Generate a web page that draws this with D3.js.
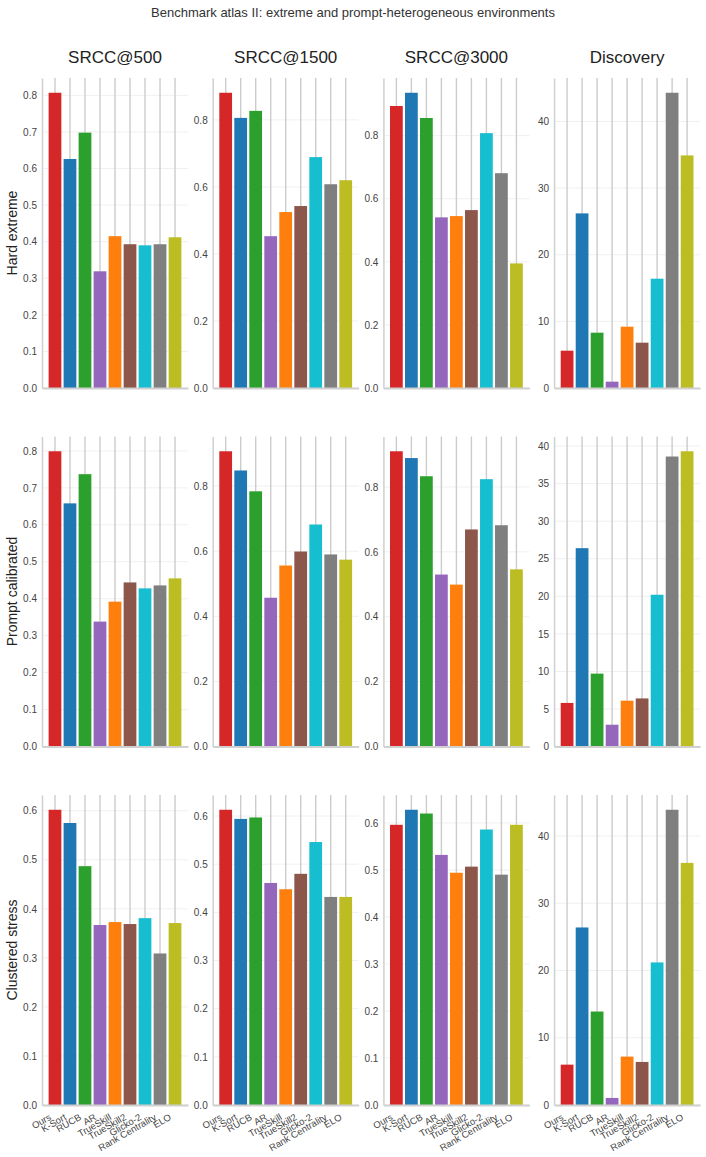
<!doctype html>
<html>
<head>
<meta charset="UTF-8">
<title>Benchmark atlas II</title>
<script src="https://d3js.org/d3.v7.min.js"></script>
<style>
    body { margin: 0; background: #fff; }
    svg text { font-family: "Liberation Sans", Arial, sans-serif; }
</style>
</head>
<body>
<svg id="chart" width="706" height="1157"></svg>
<script>
// methods and their colours
var methods = ["Ours", "K-Sort", "RUCB", "AR", "TrueSkill", "TrueSkill2", "Glicko-2", "Rank Centrality", "ELO"];
var colors = ["#d62728", "#1f77b4", "#2ca02c", "#9467bd", "#ff7f0e", "#8c564b", "#17becf", "#7f7f7f", "#bcbd22"];
var metrics = ["SRCC@500", "SRCC@1500", "SRCC@3000", "Discovery"];
var envs = ["Hard extreme", "Prompt calibrated", "Clustered stress"];

// Hard extreme
var hard500  = [0.807, 0.626, 0.698, 0.319, 0.415, 0.393, 0.390, 0.393, 0.412];
var hard1500 = [0.881, 0.806, 0.827, 0.453, 0.525, 0.543, 0.689, 0.608, 0.620];
var hard3000 = [0.894, 0.936, 0.856, 0.541, 0.545, 0.564, 0.808, 0.681, 0.395];
var hardDisc = [5.6, 26.2, 8.3, 0.95, 9.2, 6.8, 16.4, 44.3, 34.9];
// Prompt calibrated
var prompt500  = [0.799, 0.658, 0.737, 0.338, 0.392, 0.444, 0.428, 0.436, 0.455];
var prompt1500 = [0.907, 0.848, 0.784, 0.457, 0.556, 0.599, 0.682, 0.590, 0.574];
var prompt3000 = [0.910, 0.889, 0.833, 0.530, 0.499, 0.669, 0.824, 0.682, 0.546];
var promptDisc = [5.8, 26.4, 9.7, 2.9, 6.1, 6.4, 20.2, 38.6, 39.3];
// Clustered stress
var clust500  = [0.602, 0.575, 0.487, 0.367, 0.373, 0.369, 0.381, 0.309, 0.371];
var clust1500 = [0.613, 0.594, 0.597, 0.461, 0.448, 0.480, 0.546, 0.432, 0.432];
var clust3000 = [0.596, 0.628, 0.620, 0.532, 0.494, 0.507, 0.586, 0.490, 0.596];
var clustDisc = [6.0, 26.4, 13.9, 1.05, 7.2, 6.4, 21.2, 43.9, 36.0];

// tick labels
var ticksTenth8 = [0, 0.1, 0.2, 0.3, 0.4, 0.5, 0.6, 0.7, 0.8];
var ticksFifth8 = [0, 0.2, 0.4, 0.6, 0.8];
var ticksTenth6 = [0, 0.1, 0.2, 0.3, 0.4, 0.5, 0.6];
var ticksTens = [0, 10, 20, 30, 40];
var ticksFives = [0, 5, 10, 15, 20, 25, 30, 35, 40];

var grid = [
    [hard500, hard1500, hard3000, hardDisc],
    [prompt500, prompt1500, prompt3000, promptDisc],
    [clust500, clust1500, clust3000, clustDisc]
];
var gridTicks = [
    [ticksTenth8, ticksFifth8, ticksFifth8, ticksTens],
    [ticksTenth8, ticksFifth8, ticksFifth8, ticksFives],
    [ticksTenth6, ticksTenth6, ticksTenth6, ticksTens]
];

var svg = d3.select("#chart");
var panelW = 146, panelH = 310;
var colLeft = function (c) { return 42 + c * 170.7; };
var rowTop = function (r) { return 78 + r * 358.5; };

svg.append("text")
    .attr("x", 353).attr("y", 17)
    .attr("text-anchor", "middle")
    .attr("font-size", 13).attr("fill", "#333")
    .text("Benchmark atlas II: extreme and prompt-heterogeneous environments");

metrics.forEach(function (m, c) {
    svg.append("text")
        .attr("x", colLeft(c) + panelW / 2).attr("y", 63)
        .attr("text-anchor", "middle")
        .attr("font-size", 17).attr("fill", "#222")
        .text(m);
});

envs.forEach(function (e, r) {
    var cy = rowTop(r) + panelH / 2;
    svg.append("text")
        .attr("transform", "translate(17," + cy + ") rotate(-90)")
        .attr("text-anchor", "middle")
        .attr("font-size", 14).attr("fill", "#222")
        .text(e);
});

for (var r = 0; r < 3; r++) {
    for (var c = 0; c < 4; c++) {
        drawPanel(r, c);
    }
}

function drawPanel(r, c) {
    var vals = grid[r][c];
    var ticks = gridTicks[r][c];
    var g = svg.append("g").attr("transform", "translate(" + colLeft(c) + "," + rowTop(r) + ")");

    var x = d3.scaleBand().domain(methods).range([0, panelW])
        .paddingInner(0.15).paddingOuter(0.44);
    var y = d3.scaleLinear().domain([0, d3.max(vals) * 1.05]).range([panelH, 0]);
    var fmt = c === 3 ? d3.format("d") : d3.format(".1f");

    // horizontal grid
    g.selectAll("line.hg").data(ticks).enter().append("line")
        .attr("class", "hg")
        .attr("x1", 0).attr("x2", panelW)
        .attr("y1", function (d) { return y(d); })
        .attr("y2", function (d) { return y(d); })
        .attr("stroke", "#f0f0f0").attr("stroke-width", 1);

    // vertical grid at each category
    g.selectAll("line.vg").data(methods).enter().append("line")
        .attr("class", "vg")
        .attr("x1", function (d) { return x(d) + x.bandwidth() / 2; })
        .attr("x2", function (d) { return x(d) + x.bandwidth() / 2; })
        .attr("y1", 0).attr("y2", panelH)
        .attr("stroke", "#cccccc").attr("stroke-width", 1.4);

    g.selectAll("rect").data(vals).enter().append("rect")
        .attr("x", function (d, i) { return x(methods[i]); })
        .attr("y", function (d) { return y(d); })
        .attr("width", x.bandwidth())
        .attr("height", function (d) { return panelH - y(d); })
        .attr("fill", function (d, i) { return colors[i]; });

    // y axis
    var ya = g.append("g").call(d3.axisLeft(y).tickValues(ticks).tickFormat(fmt).tickSize(0).tickPadding(5));
    ya.select(".domain").attr("stroke", "#d0d0d0").attr("stroke-width", 1.5);
    ya.selectAll("text").attr("font-size", 10).attr("fill", "#444")
        .style("font-family", "'Liberation Sans', Arial, sans-serif");

    // x axis
    var xa = g.append("g").attr("transform", "translate(0," + panelH + ")")
        .call(d3.axisBottom(x).tickSize(0).tickFormat(r === 2 ? null : ""));
    xa.select(".domain").attr("stroke", "#d0d0d0").attr("stroke-width", 2);
    if (r === 2) {
        xa.selectAll("text")
            .attr("font-size", 9.5).attr("fill", "#444")
            .style("font-family", "'Liberation Sans', Arial, sans-serif")
            .attr("text-anchor", "end")
            .attr("dy", null).attr("y", null)
            .attr("transform", "translate(-3,14) rotate(-30)");
    }
}
</script>
</body>
</html>
